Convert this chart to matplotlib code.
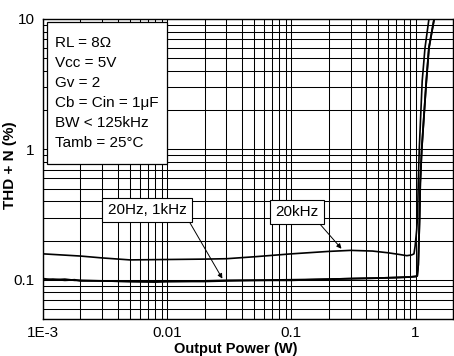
import matplotlib
matplotlib.use("Agg")
import matplotlib.pyplot as plt
from matplotlib.patches import Rectangle

plt.rcParams['font.family'] = ['Liberation Sans', 'DejaVu Sans']
plt.rcParams['font.size'] = 11

# Data
p_low = [0.001, 0.0012, 0.0015, 0.0018, 0.002, 0.003, 0.005, 0.008, 0.01, 0.02, 0.03,
         0.05, 0.1, 0.2, 0.3, 0.5, 0.7, 0.9, 1.0, 1.03, 1.05, 1.077, 1.09, 1.12,
         1.17, 1.22, 1.28, 1.41]
thd_20hz = [0.102, 0.100, 0.101, 0.099, 0.099, 0.098, 0.097, 0.097, 0.097, 0.098, 0.099,
            0.099, 0.100, 0.101, 0.102, 0.103, 0.104, 0.105, 0.106, 0.107, 0.13, 0.307,
            0.55, 1.0, 1.86, 3.35, 6.0, 10.0]
thd_1khz = [0.099, 0.101, 0.099, 0.100, 0.098, 0.098, 0.097, 0.096, 0.097, 0.097, 0.098,
            0.099, 0.099, 0.101, 0.102, 0.103, 0.104, 0.105, 0.106, 0.107, 0.13, 0.307,
            0.55, 1.0, 1.86, 3.35, 6.0, 10.0]

p_20k = [0.001, 0.002, 0.003, 0.005, 0.01, 0.02, 0.03, 0.05, 0.1, 0.2, 0.3, 0.45, 0.6,
         0.75, 0.85, 0.93, 0.97, 0.99, 1.02, 1.038, 1.05, 1.07, 1.10, 1.13, 1.19, 1.28]
thd_20k = [0.158, 0.152, 0.147, 0.142, 0.143, 0.144, 0.145, 0.150, 0.158, 0.165, 0.168,
           0.166, 0.161, 0.156, 0.153, 0.155, 0.158, 0.18, 0.24, 0.31, 0.55, 1.0,
           1.86, 3.35, 6.0, 10.0]

xticks = [0.001, 0.01, 0.1, 1]
xticklabels = ['1E-3', '0.01', '0.1', '1']
yticks = [0.1, 1, 10]
yticklabels = ['0.1', '1', '10']

conditions = ['RL = 8Ω', 'Vcc = 5V', 'Gv = 2', 'Cb = Cin = 1μF', 'BW < 125kHz',
              'Tamb = 25°C']

W, H = 454, 356
fig = plt.figure(figsize=(W / 100, H / 100), dpi=100)
L, R, T, B = 43, 453, 19, 319
ax = fig.add_axes([L / W, 1 - B / H, (R - L) / W, (B - T) / H])

ax.set_xscale('log')
ax.set_yscale('log')
ax.set_xlim(0.001, 2.0)
ax.set_ylim(0.05, 10)

ax.grid(which='both', color='black', linewidth=0.75)
ax.set_axisbelow(True)

ax.plot(p_20k, thd_20k, color='black', linewidth=1.2, zorder=3)
ax.plot(p_low, thd_20hz, color='black', linewidth=1.3, zorder=3)
ax.plot(p_low, thd_1khz, color='black', linewidth=1.3, zorder=3)

ax.set_xticks(xticks)
ax.set_xticklabels(xticklabels)
ax.set_yticks(yticks)
ax.set_yticklabels(yticklabels)
ax.tick_params(which='both', length=0)
ax.tick_params(axis='x', pad=5)
ax.tick_params(axis='y', pad=6)
for s in ax.spines.values():
    s.set_linewidth(1.0)
    s.set_color('black')

# Conditions box
box_x0, box_x1 = (47 - L) / (R - L), (167 - L) / (R - L)
box_y0, box_y1 = (B - 164) / (B - T), (B - 22) / (B - T)
ax.add_patch(Rectangle((box_x0, box_y0), box_x1 - box_x0, box_y1 - box_y0,
                       transform=ax.transAxes, facecolor='white', edgecolor='black',
                       linewidth=0.9, zorder=4))
line_centers = [43, 63, 83, 103, 123, 143]
for txt, yc in zip(conditions, line_centers):
    ax.text((55 - L) / (R - L), (B - yc) / (B - T), txt, transform=ax.transAxes,
            ha='left', va='center', fontsize=11, zorder=5)

# Annotations
ax.annotate('20Hz, 1kHz', xy=(0.0278, 0.102), xytext=(0.0069, 0.343),
            ha='center', va='center', fontsize=11, zorder=6,
            bbox=dict(boxstyle='square,pad=0.35', fc='white', ec='black', lw=0.8),
            arrowprops=dict(arrowstyle='-|>', color='black', lw=0.7,
                            mutation_scale=7, relpos=(1.0, 0.0),
                            shrinkA=0, shrinkB=0))
ax.annotate('20kHz', xy=(0.253, 0.173), xytext=(0.111, 0.33),
            ha='center', va='center', fontsize=11, zorder=6,
            bbox=dict(boxstyle='square,pad=0.35', fc='white', ec='black', lw=0.8),
            arrowprops=dict(arrowstyle='-|>', color='black', lw=0.7,
                            mutation_scale=7, relpos=(0.93, 0.0),
                            shrinkA=0, shrinkB=0))

fig.text(10 / W, 1 - 165 / H, 'THD + N (%)', rotation=90, ha='center', va='center',
         fontsize=11, fontweight='bold')
fig.text(235.5 / W, 1 - 353 / H, 'Output Power (W)', ha='center', va='baseline',
         fontsize=10.5, fontweight='bold')

fig.savefig('out.png', dpi=100)
